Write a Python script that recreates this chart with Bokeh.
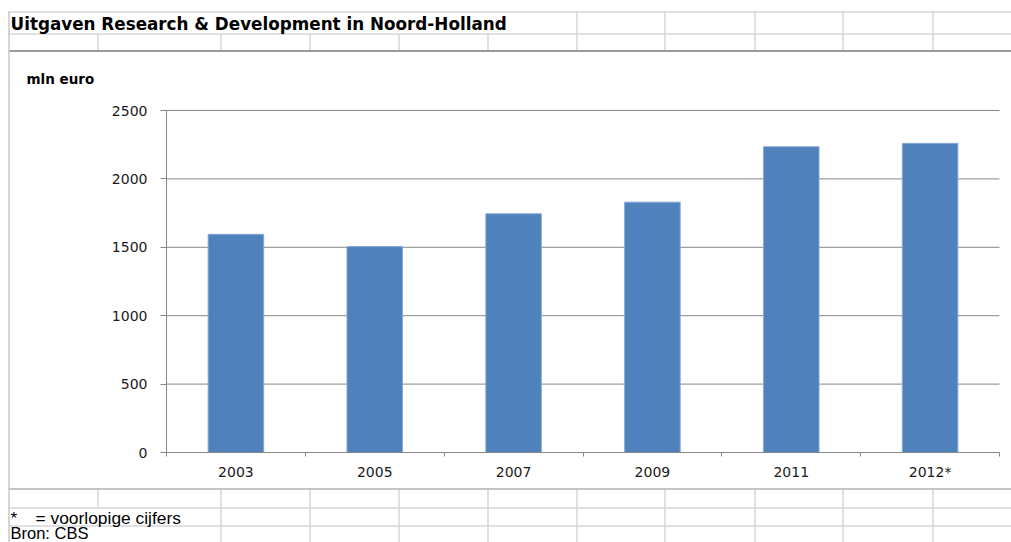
from bokeh.plotting import figure
from bokeh.models import Range1d, LinearAxis, FixedTicker
from bokeh.embed import file_html
from bokeh.resources import INLINE
from bokeh.core.properties import value

# ---- data ----
categories = ["2003", "2005", "2007", "2009", "2011", "2012*"]
values = [1595, 1505, 1745, 1830, 2235, 2260]
y_ticks = [0, 500, 1000, 1500, 2000, 2500]
title_text = "Uitgaven Research & Development in Noord-Holland"
unit_text = "mln euro"
note_star = "*"
note_text = "= voorlopige cijfers"
source_text = "Bron: CBS"

# ---- layout constants (picture pixels) ----
W, H = 1011, 542
OX, OY = 0, 0
PL, PR, PT, PB = 166, 999, 110, 452   # plot area
n = len(categories)
sx = (PR - PL) / n
sy = (PB - PT) / y_ticks[-1]
x_start = (OX - PL) / sx
x_end = x_start + W / sx
y_start = -((OY + H) - PB) / sy
y_end = y_start + H / sy

p = figure(width=W, height=H, output_backend="svg", toolbar_location=None,
           x_axis_type=None, y_axis_type=None,
           x_range=Range1d(x_start, x_end), y_range=Range1d(y_start, y_end),
           min_border=0, outline_line_color=None, background_fill_color="white",
           border_fill_color="white")
p.extra_x_ranges = {"px": Range1d(OX, OX + W)}
p.extra_y_ranges = {"px": Range1d(OY + H, OY)}

GRID = "#d6d6d6"
DARK = "#9a9a9a"
AX = "#868686"

# spreadsheet cell borders
cols = [8, 97, 220, 309, 398, 487, 576, 664, 754, 842, 932]
hx0, hx1, hy = [], [], []
for yy in [11.5, 33.5, 507.5, 525.5]:
    hx0.append(8); hx1.append(1011); hy.append(yy)
p.segment(x0=hx0, x1=hx1, y0=hy, y1=hy, line_color=GRID, line_width=1.5,
          x_range_name="px", y_range_name="px")
vx, vy0, vy1 = [], [], []
for c in cols:
    if c >= 576:
        vx.append(c + 0.5); vy0.append(11); vy1.append(33)
    if c >= 97:
        vx.append(c + 0.5); vy0.append(33); vy1.append(50)
        vx.append(c + 0.5); vy0.append(488); vy1.append(507)
    if c >= 220:
        vx.append(c + 0.5); vy0.append(507); vy1.append(542)
p.segment(x0=vx, x1=vx, y0=vy0, y1=vy1, line_color=GRID, line_width=1.5,
          x_range_name="px", y_range_name="px")
# chart border
p.segment(x0=[8, 8, 8.5], x1=[1011, 1011, 8.5], y0=[50.5, 488.5, 11], y1=[50.5, 488.5, 542],
          line_color=[DARK, "#b0b0b0", "#c8c8c8"], line_width=[2, 1.5, 1.5],
          x_range_name="px", y_range_name="px")

# horizontal gridlines of the chart
gt = [t for t in y_ticks if t > 0]
p.segment(x0=[0] * len(gt), x1=[n] * len(gt), y0=gt, y1=gt, line_color=AX, line_width=1)

# bars
xs = [i + 0.5 for i in range(n)]
p.vbar(x=xs, top=values, bottom=0, width=0.4, fill_color="#4f81bd",
       line_color="#86a9d6", line_width=1)

# axes
yaxis = LinearAxis(fixed_location=0, bounds=(0, y_ticks[-1]),
                   ticker=FixedTicker(ticks=y_ticks),
                   axis_line_color=AX, major_tick_line_color=AX,
                   major_tick_out=6, major_tick_in=0, minor_tick_out=0, minor_tick_in=0,
                   major_label_standoff=13,
                   major_label_text_font="DejaVu Sans",
                   major_label_text_font_size="14px",
                   major_label_text_color="#1a1a1a")
p.add_layout(yaxis, "left")

xaxis = LinearAxis(fixed_location=0, bounds=(0, n),
                   ticker=FixedTicker(ticks=xs, minor_ticks=list(range(n + 1))),
                   major_label_overrides={x: c for x, c in zip(xs, categories)},
                   axis_line_color=AX, major_tick_line_color=None,
                   minor_tick_line_color=AX,
                   major_tick_out=0, major_tick_in=0, minor_tick_out=4, minor_tick_in=0,
                   major_label_standoff=7,
                   major_label_text_font="DejaVu Sans",
                   major_label_text_font_size="14px",
                   major_label_text_color="#1a1a1a")
p.add_layout(xaxis, "below")

# texts (vertical middle of capitals)
p.text(x=[10], y=[23.8], text=[title_text], text_font=value("DejaVu Sans"),
       text_font_style="bold", text_font_size="16.8px", text_baseline="middle",
       text_color="black", x_range_name="px", y_range_name="px")
p.text(x=[26], y=[78.5], text=[unit_text], text_font=value("DejaVu Sans"),
       text_font_style="bold", text_font_size="13.5px", text_baseline="middle",
       text_color="black", x_range_name="px", y_range_name="px")
p.text(x=[10, 35], y=[517, 517], text=[note_star, note_text],
       text_font=value("Liberation Sans"), text_font_size="17.4px",
       text_baseline="middle", text_color="black",
       x_range_name="px", y_range_name="px")
p.text(x=[10], y=[532.5], text=[source_text],
       text_font=value("Liberation Sans"), text_font_size="16.5px",
       text_baseline="middle", text_color="black",
       x_range_name="px", y_range_name="px")

open("out.html", "w").write(file_html(p, INLINE))
